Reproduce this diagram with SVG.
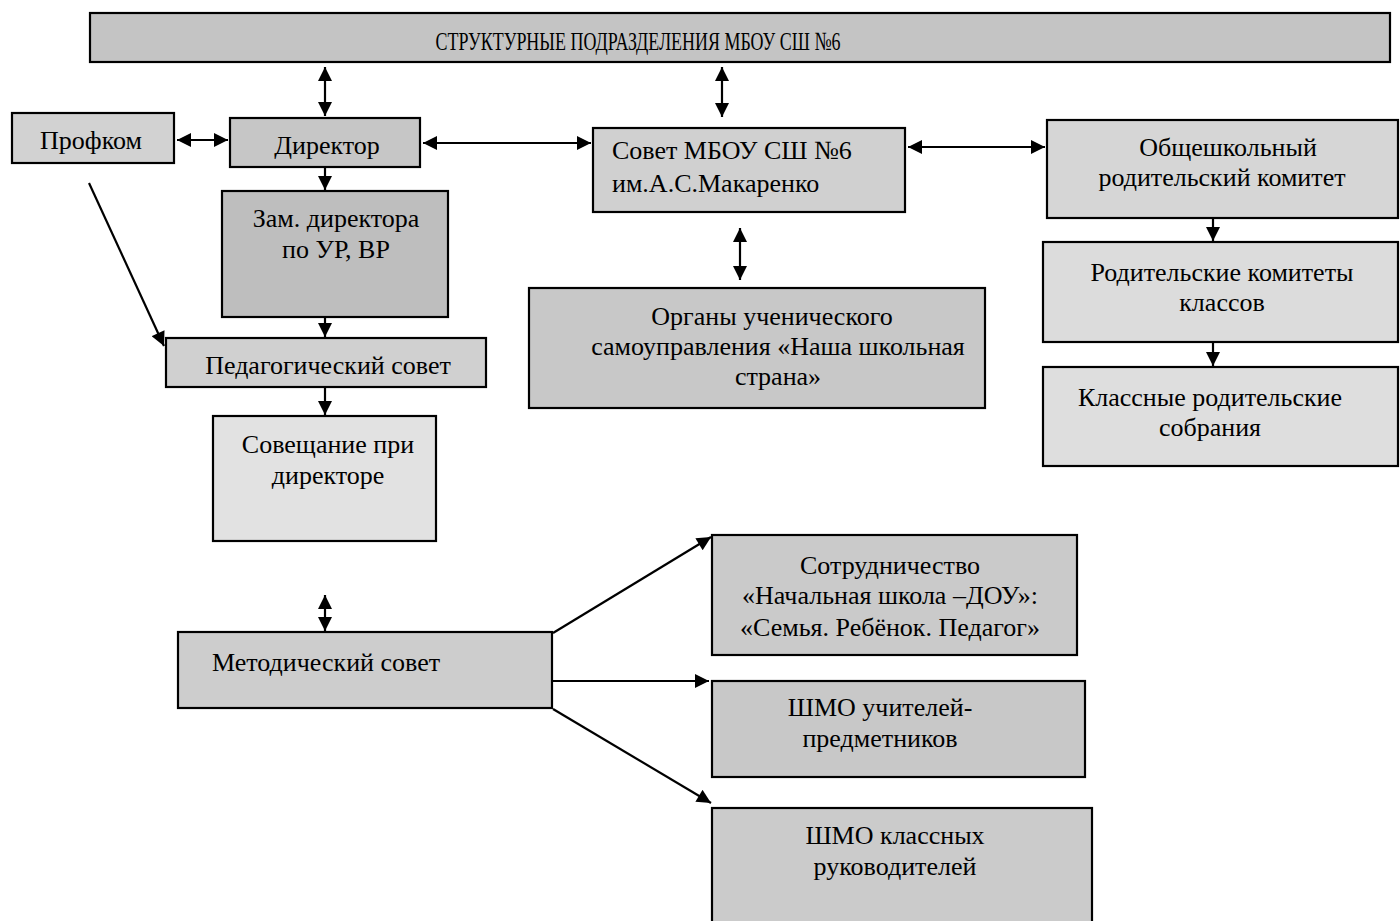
<svg xmlns="http://www.w3.org/2000/svg" width="1400" height="921" viewBox="0 0 1400 921">
<style>
.box{stroke:#000;stroke-width:2.2}
.t{font-family:"Liberation Serif","Times New Roman",serif;font-size:26px;fill:#000;text-anchor:middle}
.tl{font-family:"Liberation Serif","Times New Roman",serif;font-size:26px;fill:#000}
.c{stroke:#000;stroke-width:2.2;fill:none}
</style>
<defs>
<marker id="ah" viewBox="0 0 10 10" refX="10" refY="5" markerWidth="15" markerHeight="14" markerUnits="userSpaceOnUse" orient="auto-start-reverse">
<path d="M0,0 L10,5 L0,10 z" fill="#000"/>
</marker>
</defs>
<rect width="1400" height="921" fill="#fff"/>

<g id="title">
<rect class="box" x="90" y="13" width="1300" height="49" fill="#c4c4c4"/>
<text class="t" x="638" y="50" font-size="23" textLength="405" lengthAdjust="spacingAndGlyphs">СТРУКТУРНЫЕ ПОДРАЗДЕЛЕНИЯ МБОУ СШ №6</text>
</g>
<g id="profkom">
<rect class="box" x="12" y="113" width="162" height="50" fill="#d2d2d2"/>
<text class="t" x="91" y="149">Профком</text>
</g>
<g id="director">
<rect class="box" x="230" y="118" width="190" height="49" fill="#c6c6c6"/>
<text class="t" x="327" y="154">Директор</text>
</g>
<g id="sovet">
<rect class="box" x="593" y="128" width="312" height="84" fill="#d0d0d0"/>
<text class="tl" x="612" y="159">Совет  МБОУ СШ №6</text>
<text class="tl" x="612" y="192">им.А.С.Макаренко</text>
</g>
<g id="parent-committee">
<rect class="box" x="1047" y="120" width="351" height="98" fill="#d6d6d6"/>
<text class="t" x="1228" y="156">Общешкольный</text>
<text class="t" x="1222" y="186">родительский комитет</text>
</g>
<g id="class-committees">
<rect class="box" x="1043" y="242" width="355" height="100" fill="#dcdcdc"/>
<text class="t" x="1222" y="281">Родительские комитеты</text>
<text class="t" x="1222" y="311">классов</text>
</g>
<g id="class-meetings">
<rect class="box" x="1043" y="367" width="355" height="99" fill="#dedede"/>
<text class="t" x="1210" y="406">Классные родительские</text>
<text class="t" x="1210" y="436">собрания</text>
</g>
<g id="deputy">
<rect class="box" x="222" y="191" width="226" height="126" fill="#bebebe"/>
<text class="t" x="336" y="227">Зам. директора</text>
<text class="t" x="336" y="258">по УР, ВР</text>
</g>
<g id="ped-council">
<rect class="box" x="166" y="338" width="320" height="49" fill="#d0d0d0"/>
<text class="t" x="328" y="374">Педагогический совет</text>
</g>
<g id="meeting">
<rect class="box" x="213" y="416" width="223" height="125" fill="#e2e2e2"/>
<text class="t" x="328" y="453">Совещание при</text>
<text class="t" x="328" y="484">директоре</text>
</g>
<g id="student-gov">
<rect class="box" x="529" y="288" width="456" height="120" fill="#c8c8c8"/>
<text class="t" x="772" y="325">Органы ученического</text>
<text class="t" x="778" y="355">самоуправления «Наша школьная</text>
<text class="t" x="778" y="385">страна»</text>
</g>
<g id="method-council">
<rect class="box" x="178" y="632" width="374" height="76" fill="#cdcdcd"/>
<text class="tl" x="212" y="671">Методический совет</text>
</g>
<g id="cooperation">
<rect class="box" x="712" y="535" width="365" height="120" fill="#cacaca"/>
<text class="t" x="890" y="574">Сотрудничество</text>
<text class="t" x="890" y="604">«Начальная школа –ДОУ»:</text>
<text class="t" x="890" y="636">«Семья. Ребёнок. Педагог»</text>
</g>
<g id="shmo-subject">
<rect class="box" x="712" y="681" width="373" height="96" fill="#c8c8c8"/>
<text class="t" x="880" y="716">ШМО учителей-</text>
<text class="t" x="880" y="747">предметников</text>
</g>
<g id="shmo-class">
<rect class="box" x="712" y="808" width="380" height="118" fill="#cbcbcb"/>
<text class="t" x="895" y="844">ШМО классных</text>
<text class="t" x="895" y="875">руководителей</text>
</g>

<g id="connectors">
<line class="c" x1="325" y1="67" x2="325" y2="116" marker-start="url(#ah)" marker-end="url(#ah)"/>
<line class="c" x1="722" y1="67" x2="722" y2="117" marker-start="url(#ah)" marker-end="url(#ah)"/>
<line class="c" x1="177" y1="140" x2="228" y2="140" marker-start="url(#ah)" marker-end="url(#ah)"/>
<line class="c" x1="423" y1="143" x2="591" y2="143" marker-start="url(#ah)" marker-end="url(#ah)"/>
<line class="c" x1="908" y1="147" x2="1045" y2="147" marker-start="url(#ah)" marker-end="url(#ah)"/>
<line class="c" x1="1213" y1="219" x2="1213" y2="241" marker-end="url(#ah)"/>
<line class="c" x1="1213" y1="343" x2="1213" y2="366" marker-end="url(#ah)"/>
<line class="c" x1="325" y1="168" x2="325" y2="190" marker-end="url(#ah)"/>
<line class="c" x1="325" y1="318" x2="325" y2="337" marker-end="url(#ah)"/>
<line class="c" x1="325" y1="388" x2="325" y2="415" marker-end="url(#ah)"/>
<line class="c" x1="89" y1="183" x2="164" y2="346" marker-end="url(#ah)"/>
<line class="c" x1="740" y1="228" x2="740" y2="280" marker-start="url(#ah)" marker-end="url(#ah)"/>
<line class="c" x1="325" y1="595" x2="325" y2="631" marker-start="url(#ah)" marker-end="url(#ah)"/>
<line class="c" x1="553" y1="633" x2="711" y2="537" marker-end="url(#ah)"/>
<line class="c" x1="553" y1="681" x2="709" y2="681" marker-end="url(#ah)"/>
<line class="c" x1="553" y1="709" x2="711" y2="803" marker-end="url(#ah)"/>
</g>
</svg>
